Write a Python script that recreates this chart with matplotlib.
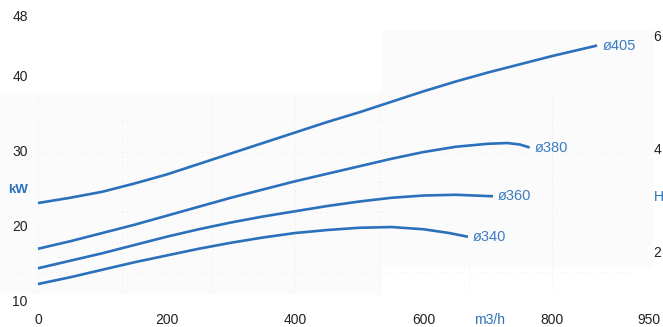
import matplotlib
matplotlib.use("Agg")
import matplotlib.pyplot as plt
from matplotlib.patches import Rectangle

plt.rcParams["font.family"] = ["Liberation Sans", "DejaVu Sans"]

# flow rate (m3/h) and power (kW)
x_405 = [0, 50, 100, 150, 200, 250, 300, 350, 400, 450, 500, 550, 600, 650, 700, 750, 800, 850, 870]
y_405 = [23.2, 23.9, 24.7, 25.8, 27.0, 28.4, 29.8, 31.2, 32.6, 34.0, 35.3, 36.7, 38.1, 39.4, 40.6, 41.7, 42.8, 43.8, 44.2]
x_380 = [0, 50, 100, 150, 200, 250, 300, 350, 400, 450, 500, 550, 600, 650, 700, 730, 750, 765]
y_380 = [17.1, 18.1, 19.2, 20.3, 21.5, 22.7, 23.9, 25.0, 26.1, 27.1, 28.1, 29.1, 30.0, 30.7, 31.1, 31.2, 31.0, 30.6]
x_360 = [0, 50, 100, 150, 200, 250, 300, 350, 400, 450, 500, 550, 600, 650, 708]
y_360 = [14.5, 15.5, 16.5, 17.6, 18.7, 19.7, 20.6, 21.4, 22.1, 22.8, 23.4, 23.9, 24.2, 24.3, 24.1]
x_340 = [0, 50, 100, 150, 200, 250, 300, 350, 400, 450, 500, 550, 600, 640, 669]
y_340 = [12.4, 13.3, 14.3, 15.3, 16.2, 17.1, 17.9, 18.6, 19.2, 19.6, 19.9, 20.0, 19.7, 19.2, 18.7]
curves = [("ø405", x_405, y_405), ("ø380", x_380, y_380),
          ("ø360", x_360, y_360), ("ø340", x_340, y_340)]

x_ticks = [0, 200, 400, 600, 800, 950]
y_ticks = [10, 20, 30, 40, 48]
# right axis (head) is cut off at the picture edge, only first digits show
right_ticks = [(45.3, "6"), (30.3, "4"), (16.5, "2")]

blue = "#2a70bb"
label_blue = "#3a7cc2"

fig = plt.figure(figsize=(6.63, 3.27), dpi=100)
ax = fig.add_axes([0, 0, 1, 1])
ax.set_xlim(-59.1, 972.5)
ax.set_ylim(6.67, 50.27)
ax.axis("off")

# faint scanned background
ax.add_patch(Rectangle((-59, 11.0), 595, 27.0, color="#fbfbfb", lw=0, zorder=0))
ax.add_patch(Rectangle((536, 14.6), 422, 31.7, color="#fbfbfb", lw=0, zorder=0))
for gx in [0, 130, 270, 400, 530, 670, 800]:
    ax.plot([gx, gx], [11.5, 37.5], color="#e0e0e0", lw=0.6, ls=(0, (1, 4)), zorder=1)
for gy in [14, 18, 22, 26, 30, 34]:
    ax.plot([-50, 930], [gy, gy], color="#e4e4e4", lw=0.6, ls=(0, (1, 5)), zorder=1)

for name, xs, ys in curves:
    ax.plot(xs, ys, color=blue, lw=1.9, solid_capstyle="butt", zorder=3)
    ax.text(xs[-1] + 8, ys[-1], name, color=label_blue, fontsize=10.5,
            ha="left", va="center")

for t in x_ticks:
    ax.text(t, 7.6, str(t), fontsize=10, ha="center", va="center", color="#222222")
for t in y_ticks:
    ax.text(-28, t, str(t), fontsize=10, ha="center", va="center", color="#222222")
for y, lab in right_ticks:
    ax.text(958, y, lab, fontsize=10, ha="left", va="center", color="#222222")
ax.text(958, 24.0, "H", fontsize=10, ha="left", va="center", color=blue)

ax.text(-31, 25.0, "kW", fontsize=9.5, ha="center", va="center", color=blue, fontweight="bold")
ax.text(703, 7.6, "m3/h", fontsize=10, ha="center", va="center", color=blue)

fig.savefig("out.png", dpi=100)
